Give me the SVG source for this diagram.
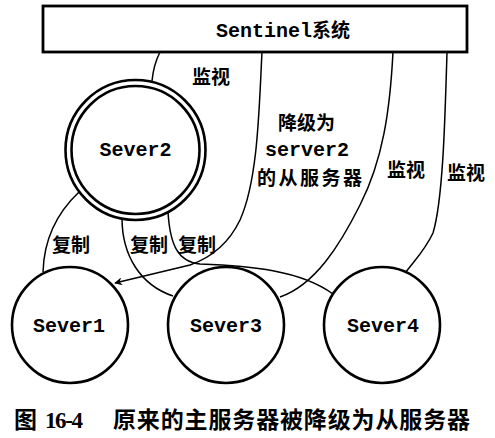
<svg xmlns="http://www.w3.org/2000/svg" width="495" height="438" viewBox="0 0 495 438">
<defs>
<style>
.box{fill:#fff;stroke:#000;stroke-width:2.8}
.node{fill:#fff;stroke:#000;stroke-width:2.6}
.conn{fill:none;stroke:#000;stroke-width:1.5}
.mono{font-family:"Liberation Mono","DejaVu Sans Mono",monospace;font-size:20px;font-weight:bold;fill:#000}
.cjk{font-family:"Noto Sans CJK SC","Noto Sans",sans-serif;font-size:19px;font-weight:bold;fill:#000}
.cap{font-family:"Noto Sans CJK SC","Noto Sans",sans-serif;font-size:23px;font-weight:bold;fill:#000}
.capn{font-family:"Liberation Serif","Noto Sans CJK SC",serif;font-size:23px;font-weight:bold;fill:#000}
</style>
<marker id="arr" viewBox="0 0 10 10" refX="9" refY="5" markerWidth="8" markerHeight="8" markerUnits="userSpaceOnUse" orient="auto">
<path d="M0,0 L10,5 L0,10 L3,5 Z" fill="#000"/>
</marker>
</defs>
<rect width="495" height="438" fill="#fff"/>
<g id="connectors">
<path class="conn" d="M160,52 C156,60 153,70 152,81"/>
<path class="conn" d="M262,52 C259,110 258,180 240,220 C228,245 210,258 190,265 L115,283" marker-end="url(#arr)"/>
<path class="conn" d="M393,52 C390,110 383,160 360,205 C340,245 315,285 280,297"/>
<path class="conn" d="M447,52 C445,120 443,200 433,233 C425,250 415,260 406,272"/>
<path class="conn" d="M79,192 C60,210 44,235 43,272"/>
<path class="conn" d="M122,218 C122,255 140,285 173,296"/>
<path class="conn" d="M168,212 C170,245 178,262 200,264 C250,266 300,270 333,294"/>
</g>
<g id="labels">
<text class="cjk" x="192" y="84">监视</text>
<text class="cjk" x="278" y="130">降级为</text>
<text class="mono" x="265" y="156">server2</text>
<text class="cjk" x="257" y="185" textLength="105">的从服务器</text>
<text class="cjk" x="387" y="177">监视</text>
<text class="cjk" x="447" y="180">监视</text>
<text class="cjk" x="52" y="252">复制</text>
<text class="cjk" x="130" y="252">复制</text>
<text class="cjk" x="178" y="252">复制</text>
</g>
<g id="sentinel">
<rect class="box" x="43" y="6" width="424" height="46"/>
<text x="283" y="37" text-anchor="middle"><tspan class="mono">Sentinel</tspan><tspan class="cjk" font-size="20">系统</tspan></text>
</g>
<g id="sever2">
<circle class="node" cx="135.5" cy="150" r="70" stroke-width="3"/>
<circle class="node" cx="135.5" cy="150" r="64" stroke-width="2.4"/>
<text class="mono" x="135.5" y="156" text-anchor="middle">Sever2</text>
</g>
<g id="sever1">
<circle class="node" cx="70" cy="325" r="58"/>
<text class="mono" x="69" y="332" text-anchor="middle">Sever1</text>
</g>
<g id="sever3">
<circle class="node" cx="226" cy="325" r="58"/>
<text class="mono" x="226" y="332" text-anchor="middle">Sever3</text>
</g>
<g id="sever4">
<circle class="node" cx="382" cy="325" r="58"/>
<text class="mono" x="383" y="332" text-anchor="middle">Sever4</text>
</g>
<g id="caption">
<text class="cap" x="14" y="428">图</text>
<text class="capn" x="45" y="428" textLength="38">16-4</text>
<text class="cap" x="113" y="428" textLength="357">原来的主服务器被降级为从服务器</text>
</g>
</svg>
